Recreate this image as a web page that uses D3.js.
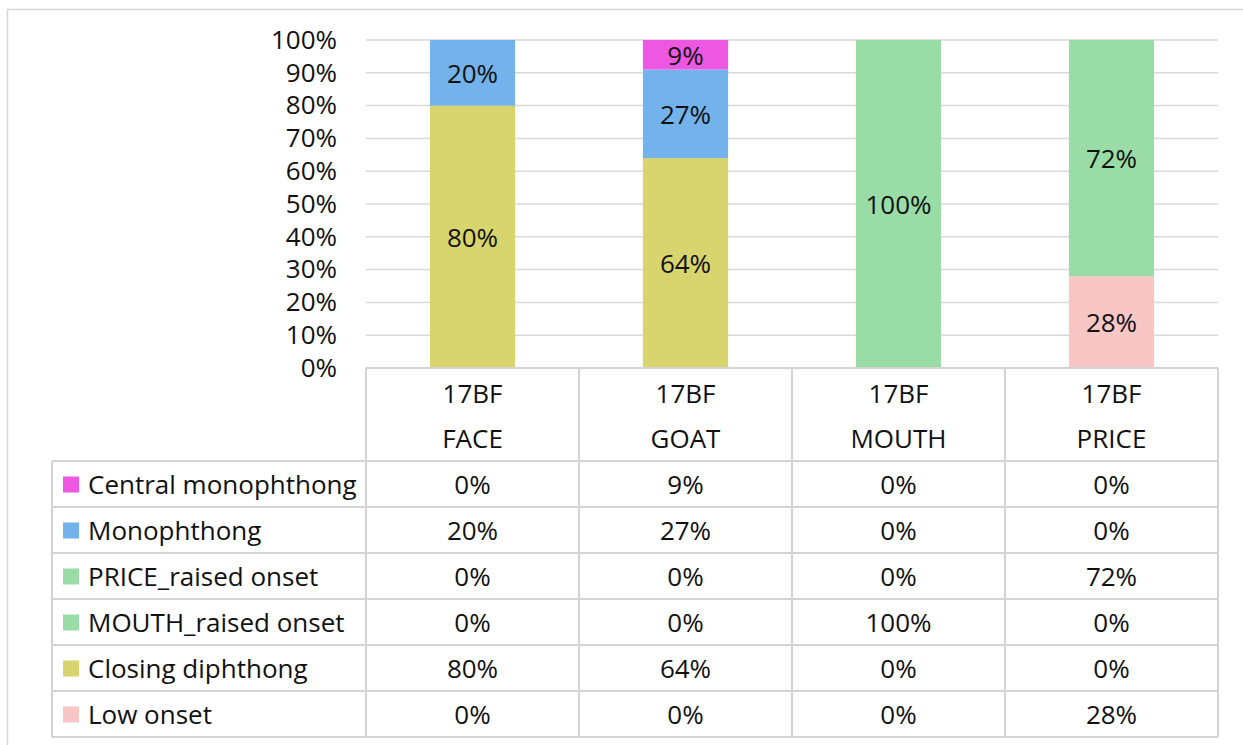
<!DOCTYPE html>
<html>
<head>
<meta charset="utf-8">
<script src="https://cdn.jsdelivr.net/npm/d3@7"></script>
<style>
  html, body { margin: 0; padding: 0; background: #fff; }
  svg { display: block; }
  text { font-family: "Open Sans", Lato, sans-serif; fill: #111; }
</style>
</head>
<body>
<svg id="chart" width="1243" height="745"></svg>
<script>
// ---- data ----
const categoryPrefix = "17BF";
const categories = ["FACE", "GOAT", "MOUTH", "PRICE"];
// series, listed top-to-bottom as in the data table
const seriesNames = ["Central monophthong", "Monophthong", "PRICE_raised onset", "MOUTH_raised onset", "Closing diphthong", "Low onset"];
const centralMonophthong = [0, 9, 0, 0];
const monophthong = [20, 27, 0, 0];
const priceRaisedOnset = [0, 0, 0, 72];
const mouthRaisedOnset = [0, 0, 100, 0];
const closingDiphthong = [80, 64, 0, 0];
const lowOnset = [0, 0, 0, 28];
const seriesColors = ["#ee57e2", "#74b2ec", "#99dca6", "#99dca6", "#d8d56e", "#f8c6c5"];
const yTicks = [0, 10, 20, 30, 40, 50, 60, 70, 80, 90, 100];

const seriesValues = [centralMonophthong, monophthong, priceRaisedOnset, mouthRaisedOnset, closingDiphthong, lowOnset];

// ---- layout ----
const svg = d3.select("#chart");
const plotLeft = 366, plotRight = 1218, plotTop = 40, plotBottom = 368;
const headerBottom = 461, rowH = 46, legendLeft = 52;
const fs = 26;
const fontFam = "'Open Sans', Lato, sans-serif";

// outer border
svg.append("rect").attr("x", 7.5).attr("y", 9.5).attr("width", 1260).attr("height", 760)
  .attr("fill", "none").attr("stroke", "#d6d6d6").attr("stroke-width", 1.5);

const x = d3.scaleBand().domain(categories).range([plotLeft, plotRight]).paddingInner(0.6).paddingOuter(0.3);
const xCol = d3.scaleBand().domain(categories).range([plotLeft, plotRight]).padding(0);
const y = d3.scaleLinear().domain([0, 100]).range([plotBottom, plotTop]);

// gridlines
svg.append("g").selectAll("line").data(yTicks.filter(d => d > 0)).join("line")
  .attr("x1", plotLeft).attr("x2", plotRight)
  .attr("y1", d => y(d)).attr("y2", d => y(d))
  .attr("stroke", "#d9d9d9").attr("stroke-width", 1.5);

// y axis
const yAxis = svg.append("g").attr("transform", `translate(${plotLeft},0)`)
  .call(d3.axisLeft(y).tickValues(yTicks).tickSize(0).tickPadding(29).tickFormat(d => d + "%"));
yAxis.select(".domain").remove();
yAxis.selectAll("text").style("font-size", fs + "px").style("font-family", fontFam).attr("fill", "#111");

// stacked bars (bottom-first order)
const stackOrder = seriesNames.map((n, i) => i).reverse();
const rows = categories.map((c, ci) => {
  const o = { cat: c };
  seriesNames.forEach((n, si) => o[n] = seriesValues[si][ci]);
  return o;
});
const stack = d3.stack().keys(stackOrder.map(i => seriesNames[i]));
const stacked = stack(rows);

const barsG = svg.append("g");
stacked.forEach(layer => {
  const si = seriesNames.indexOf(layer.key);
  barsG.append("g").selectAll("rect").data(layer.filter(d => d[1] - d[0] > 0)).join("rect")
    .attr("x", d => x(d.data.cat))
    .attr("width", x.bandwidth())
    .attr("y", d => y(d[1]))
    .attr("height", d => y(d[0]) - y(d[1]))
    .attr("fill", seriesColors[si]);
  barsG.append("g").selectAll("text").data(layer.filter(d => d[1] - d[0] > 0)).join("text")
    .attr("x", d => x(d.data.cat) + x.bandwidth() / 2)
    .attr("y", d => (y(d[0]) + y(d[1])) / 2)
    .attr("text-anchor", "middle").attr("dominant-baseline", "central")
    .style("font-size", fs + "px")
    .text(d => (d[1] - d[0]) + "%");
});

// ---- data table ----
const lineColor = "#d3d3d3";
const tbl = svg.append("g");
const tableBottom = headerBottom + rowH * seriesNames.length;
// horizontal lines
tbl.append("line").attr("x1", plotLeft).attr("x2", plotRight).attr("y1", plotBottom).attr("y2", plotBottom)
  .attr("stroke", lineColor).attr("stroke-width", 2);
d3.range(seriesNames.length + 1).forEach(i => {
  tbl.append("line").attr("x1", legendLeft).attr("x2", plotRight)
    .attr("y1", headerBottom + i * rowH).attr("y2", headerBottom + i * rowH)
    .attr("stroke", lineColor).attr("stroke-width", 2);
});
// vertical lines
const colEdges = categories.map(c => xCol(c)).concat([plotRight]);
colEdges.forEach(xx => {
  tbl.append("line").attr("x1", xx).attr("x2", xx).attr("y1", plotBottom).attr("y2", tableBottom)
    .attr("stroke", lineColor).attr("stroke-width", 2);
});
tbl.append("line").attr("x1", legendLeft).attr("x2", legendLeft).attr("y1", headerBottom).attr("y2", tableBottom)
  .attr("stroke", lineColor).attr("stroke-width", 2);

// header labels
categories.forEach(c => {
  const cx = xCol(c) + xCol.bandwidth() / 2;
  tbl.append("text").attr("x", cx).attr("y", 393).attr("text-anchor", "middle")
    .attr("dominant-baseline", "central").style("font-size", fs + "px").text(categoryPrefix);
  tbl.append("text").attr("x", cx).attr("y", 438).attr("text-anchor", "middle")
    .attr("dominant-baseline", "central").style("font-size", fs + "px").text(c);
});

// rows
seriesNames.forEach((n, si) => {
  const cy = headerBottom + si * rowH + rowH / 2;
  tbl.append("rect").attr("x", 63).attr("y", cy - 7.5).attr("width", 16).attr("height", 16)
    .attr("fill", seriesColors[si]);
  tbl.append("text").attr("x", 88).attr("y", cy).attr("dominant-baseline", "central")
    .style("font-size", fs + "px").text(n);
  categories.forEach((c, ci) => {
    tbl.append("text").attr("x", xCol(c) + xCol.bandwidth() / 2).attr("y", cy)
      .attr("text-anchor", "middle").attr("dominant-baseline", "central")
      .style("font-size", fs + "px").text(seriesValues[si][ci] + "%");
  });
});
</script>
</body>
</html>
